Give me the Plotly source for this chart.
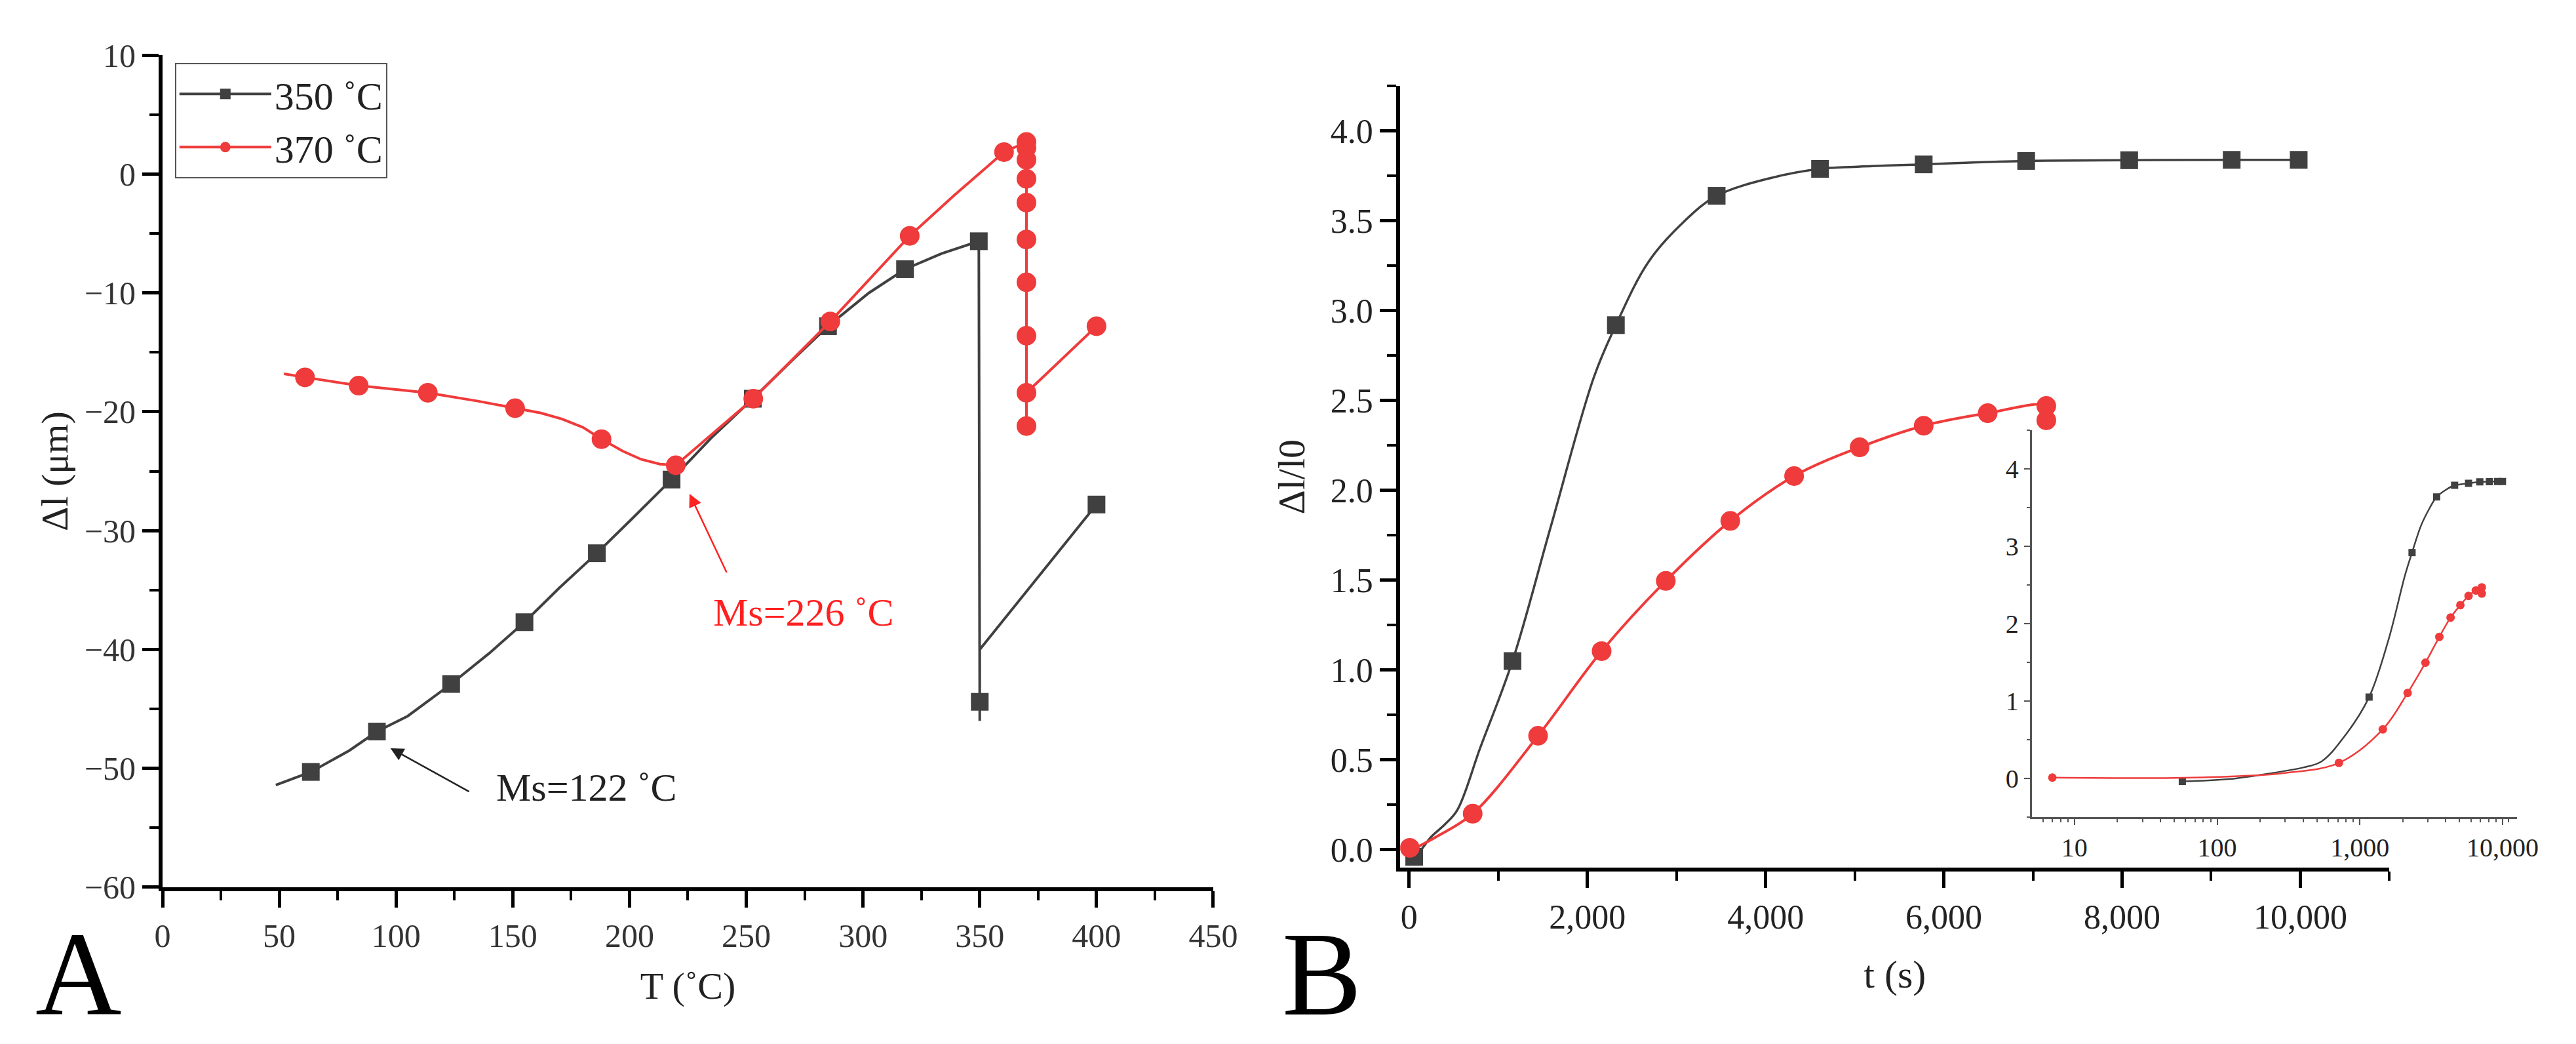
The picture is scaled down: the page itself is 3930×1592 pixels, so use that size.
import plotly.graph_objects as go

# ---------------- Panel A data (T in degC, dl in um) ----------------
T350_line = [48.5, 63.5, 80, 91.8, 105, 123.6, 140, 155, 170, 186, 200, 218, 235, 252.8, 270, 285,
             302.5, 318, 333.5, 349.6, 350, 350, 350, 400]
dl350_line = [-51.4, -50.3, -48.5, -46.9, -45.6, -42.9, -40.3, -37.7, -34.8, -31.9, -29.2, -25.7, -22.2,
              -18.9, -15.6, -12.8, -10.0, -8.0, -6.7, -5.65, -46.0, -44.4, -40.0, -27.8]
T350_pts = [63.5, 91.8, 123.6, 155, 186, 218, 252.8, 285, 318, 349.6, 350, 400]
dl350_pts = [-50.3, -46.9, -42.9, -37.7, -31.9, -25.7, -18.9, -12.8, -8.0, -5.65, -44.4, -27.8]

T370_line = [52, 61, 84, 113.6, 135, 151, 162, 171, 180, 188, 197, 205, 213, 219.8, 253, 286, 302.5, 320,
             339, 360.4, 370, 370, 370, 370, 370, 370, 370, 370, 370, 370, 370, 400]
dl370_line = [-16.8, -17.1, -17.8, -18.4, -19.1, -19.7, -20.1, -20.6, -21.3, -22.3, -23.3, -24.0, -24.4,
              -24.5, -18.9, -12.4, -8.9, -5.2, -1.8, 1.85, 2.7, 2.2, 1.2, -0.4, -2.4, -5.5, -9.1, -13.6,
              -18.4, -21.2, -18.4, -12.8]
T370_pts = [61, 84, 113.6, 151, 188, 219.8, 253, 286, 320, 360.4,
            370, 370, 370, 370, 370, 370, 370, 370, 370, 370, 400]
dl370_pts = [-17.1, -17.8, -18.4, -19.7, -22.3, -24.5, -18.9, -12.4, -5.2, 1.85,
             2.7, 2.2, 1.2, -0.4, -2.4, -5.5, -9.1, -13.6, -18.4, -21.2, -12.8]

# ---------------- Panel B data (t in s, dl/l0) ----------------
t350_line = [57, 120, 245, 400, 540, 800, 1160, 1585, 2073, 2320, 2683, 3091, 3451, 4065, 4611, 5200,
             5774, 6924, 8080, 9230, 9982]
r350_line = [-0.04, -0.01, 0.07, 0.14, 0.22, 0.57, 1.05, 1.79, 2.63, 2.92, 3.27, 3.50, 3.64, 3.74, 3.79,
             3.805, 3.815, 3.834, 3.838, 3.84, 3.84]
t350_pts = [57, 1160, 2320, 3451, 4611, 5774, 6924, 8080, 9230, 9982]
r350_pts = [-0.04, 1.05, 2.92, 3.64, 3.79, 3.815, 3.834, 3.838, 3.84, 3.84]

t370_line = [7, 50, 150, 300, 713, 1447, 2160, 2880, 3604, 4320, 5055, 5774, 6492, 7150, 7150]
r370_line = [0.01, 0.005, 0.03, 0.07, 0.20, 0.634, 1.105, 1.496, 1.83, 2.08, 2.24, 2.36, 2.43, 2.47, 2.39]
t370_pts = [7, 713, 1447, 2160, 2880, 3604, 4320, 5055, 5774, 6492, 7150, 7150]
r370_pts = [0.01, 0.20, 0.634, 1.105, 1.496, 1.83, 2.08, 2.24, 2.36, 2.43, 2.47, 2.39]

series_names = ["350 ˚C", "370 ˚C"]
GRAY = "#404040"
RED = "#ef3b3b"
FONT = "Liberation Serif"

fig = go.Figure()

# Panel A
fig.add_trace(go.Scatter(x=T350_line, y=dl350_line, mode="lines", line=dict(color=GRAY, width=4),
                         showlegend=False, xaxis="x", yaxis="y", hoverinfo="skip"))
fig.add_trace(go.Scatter(x=T350_pts, y=dl350_pts, mode="markers",
                         marker=dict(symbol="square", size=27, color=GRAY), showlegend=False,
                         xaxis="x", yaxis="y"))
fig.add_trace(go.Scatter(x=T370_line, y=dl370_line, mode="lines", line=dict(color=RED, width=4),
                         showlegend=False, xaxis="x", yaxis="y", hoverinfo="skip"))
fig.add_trace(go.Scatter(x=T370_pts, y=dl370_pts, mode="markers",
                         marker=dict(symbol="circle", size=30, color=RED), showlegend=False,
                         xaxis="x", yaxis="y"))
# legend entries
fig.add_trace(go.Scatter(x=[None], y=[None], mode="lines+markers", name=series_names[0],
                         line=dict(color=GRAY, width=4), marker=dict(symbol="square", size=27, color=GRAY),
                         xaxis="x", yaxis="y"))
fig.add_trace(go.Scatter(x=[None], y=[None], mode="lines+markers", name=series_names[1],
                         line=dict(color=RED, width=4), marker=dict(symbol="circle", size=30, color=RED),
                         xaxis="x", yaxis="y"))

# Panel B main
fig.add_trace(go.Scatter(x=t350_line, y=r350_line, mode="lines", line=dict(color=GRAY, width=3.5, shape="spline"),
                         showlegend=False, xaxis="x2", yaxis="y2", hoverinfo="skip"))
fig.add_trace(go.Scatter(x=t350_pts, y=r350_pts, mode="markers",
                         marker=dict(symbol="square", size=27, color=GRAY), showlegend=False,
                         xaxis="x2", yaxis="y2"))
fig.add_trace(go.Scatter(x=t370_line, y=r370_line, mode="lines", line=dict(color=RED, width=4, shape="spline"),
                         showlegend=False, xaxis="x2", yaxis="y2", hoverinfo="skip"))
fig.add_trace(go.Scatter(x=t370_pts, y=r370_pts, mode="markers",
                         marker=dict(symbol="circle", size=30, color=RED), showlegend=False,
                         xaxis="x2", yaxis="y2"))

# Inset (log time)
fig.add_trace(go.Scatter(x=t350_line, y=r350_line, mode="lines", line=dict(color=GRAY, width=2.5, shape="spline"),
                         showlegend=False, xaxis="x3", yaxis="y3", hoverinfo="skip"))
fig.add_trace(go.Scatter(x=t350_pts, y=r350_pts, mode="markers",
                         marker=dict(symbol="square", size=11, color=GRAY), showlegend=False,
                         xaxis="x3", yaxis="y3"))
fig.add_trace(go.Scatter(x=t370_line, y=r370_line, mode="lines", line=dict(color=RED, width=2.5, shape="spline"),
                         showlegend=False, xaxis="x3", yaxis="y3", hoverinfo="skip"))
fig.add_trace(go.Scatter(x=t370_pts, y=r370_pts, mode="markers",
                         marker=dict(symbol="circle", size=13, color=RED), showlegend=False,
                         xaxis="x3", yaxis="y3"))

W, H = 3930, 1592

def px(x0, x1):
    return [x0 / W, x1 / W]

def py(ytop, ybot):
    return [1 - ybot / H, 1 - ytop / H]

main_axis = dict(showline=True, linecolor="black", linewidth=6, showgrid=False, zeroline=False,
                 ticks="outside", ticklen=25, tickwidth=5, tickcolor="black",
                 tickfont=dict(family=FONT, size=50, color="#333333"), mirror=False)

fig.update_layout(
    width=W, height=H, margin=dict(l=0, r=0, t=0, b=0),
    paper_bgcolor="white", plot_bgcolor="white",
    font=dict(family=FONT, color="#222222"),
    xaxis=dict(main_axis, domain=px(230, 1854), range=[0, 450], dtick=50, tick0=0,
               minor=dict(dtick=25, ticks="outside", ticklen=14, tickwidth=4, tickcolor="black"),
               title=dict(text="T (˚C)", font=dict(family=FONT, size=58, color="#222222"), standoff=30),
               anchor="y"),
    yaxis=dict(main_axis, domain=py(51, 1366), range=[-60, 10], dtick=10, tick0=0,
               minor=dict(dtick=5, ticks="outside", ticklen=14, tickwidth=4, tickcolor="black"),
               title=dict(text="Δl (μm)", font=dict(family=FONT, size=58, color="#222222"), standoff=8),
               anchor="x"),
    xaxis2=dict(main_axis, domain=px(2143, 3672), range=[-100, 11000], tickvals=[0, 2000, 4000, 6000, 8000, 10000],
                tickformat=",d",
                minor=dict(dtick=1000, tick0=0, ticks="outside", ticklen=14, tickwidth=4, tickcolor="black"),
                tickfont=dict(family=FONT, size=52, color="#222222"),
                title=dict(text="t (s)", font=dict(family=FONT, size=60, color="#222222"), standoff=40),
                anchor="y2"),
    yaxis2=dict(main_axis, domain=py(100, 1335), range=[-0.1, 4.25], dtick=0.5, tick0=0, tickformat=".1f",
                minor=dict(dtick=0.25, tick0=0, ticks="outside", ticklen=14, tickwidth=4, tickcolor="black"),
                tickfont=dict(family=FONT, size=52, color="#222222"),
                title=dict(text="Δl/l0", font=dict(family=FONT, size=58, color="#222222"), standoff=22),
                anchor="x2"),
    xaxis3=dict(type="log", domain=px(3119, 3869), range=[0.7, 4.1], showline=True, linecolor="#555555",
                linewidth=2.5, showgrid=False, zeroline=False, ticks="outside", ticklen=9, tickwidth=2,
                tickcolor="#555555", tickvals=[10, 100, 1000, 10000], ticktext=["10", "100", "1,000", "10,000"],
                minor=dict(tickvals=[6, 7, 8, 9, 20, 30, 40, 50, 60, 70, 80, 90, 200, 300, 400, 500, 600, 700,
                                     800, 900, 2000, 3000, 4000, 5000, 6000, 7000, 8000, 9000, 11000],
                           ticks="outside", ticklen=5, tickwidth=2, tickcolor="#555555"),
                tickfont=dict(family=FONT, size=40, color="#222222"), anchor="y3"),
    yaxis3=dict(domain=py(644, 1255), range=[-0.5, 4.5], dtick=1, tick0=0, showline=True, linecolor="#555555",
                linewidth=2.5, showgrid=False, zeroline=False, ticks="outside", ticklen=9, tickwidth=2,
                tickcolor="#555555",
                minor=dict(dtick=0.5, tick0=0, ticks="outside", ticklen=5, tickwidth=2, tickcolor="#555555"),
                tickfont=dict(family=FONT, size=40, color="#222222"), anchor="x3"),
    legend=dict(x=249 / W, y=1 - 63 / H, xanchor="left", yanchor="top", bgcolor="white",
                bordercolor="#555555", borderwidth=2, font=dict(family=FONT, size=60, color="#222222"),
                itemwidth=140, tracegroupgap=0),
    annotations=[
        dict(x=97.6, y=-48.3, ax=131.7, ay=-52.0, xref="x", yref="y", axref="x", ayref="y", text="",
             showarrow=True, arrowhead=2, arrowsize=1.6, arrowwidth=2.5, arrowcolor="#222222"),
        dict(x=181.6, y=-51.6, xref="x", yref="y", text="Ms=122 ˚C", showarrow=False,
             xanchor="center", yanchor="middle", font=dict(family=FONT, size=60, color="#222222")),
        dict(x=225.7, y=-26.9, ax=241.8, ay=-33.6, xref="x", yref="y", axref="x", ayref="y", text="",
             showarrow=True, arrowhead=2, arrowsize=1.6, arrowwidth=2.5, arrowcolor="#ff2020"),
        dict(x=274.6, y=-36.9, xref="x", yref="y", text="Ms=226 ˚C", showarrow=False,
             xanchor="center", yanchor="middle", font=dict(family=FONT, size=60, color="#ff2020")),
        dict(x=100 / W, y=1 - 1503 / H, xref="paper", yref="paper", text="A", showarrow=False,
             xanchor="center", yanchor="middle", font=dict(family=FONT, size=182, color="black")),
        dict(x=2022 / W, y=1 - 1503 / H, xref="paper", yref="paper", text="B", showarrow=False,
             xanchor="center", yanchor="middle", font=dict(family=FONT, size=182, color="black")),
    ],
)

fig.write_html("out.html")
